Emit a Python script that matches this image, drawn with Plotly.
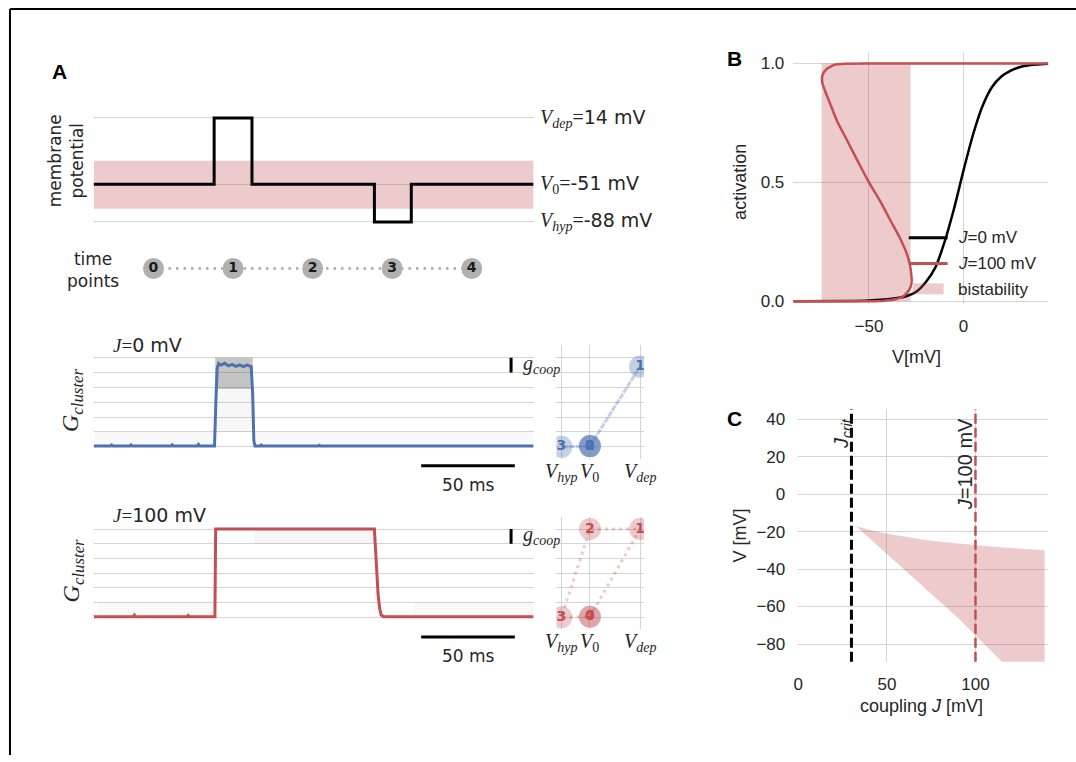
import plotly.graph_objects as go

W, H = 1076, 762

# ---------------- data ----------------
V_DEP, V_0, V_HYP = 14, -51, -88            # mV
BISTAB_V = [-75, -28]                        # bistability interval (mV)
T_END = 235                                  # ms
STIM_T = [0, 64.4, 84.6, 150.0, 169.7, 235]
STIM_V = [V_0, V_DEP, V_0, V_HYP, V_0, V_0]
TIME_POINT_T = [32, 74.5, 117, 159.5, 202]
TIME_POINT_LABELS = ["0", "1", "2", "3", "4"]
SCALE_BAR_MS = 50
G_LEVELS = [0, 1, 2, 3, 4, 5, 6]
G_MAX = 6
G_COOP = 1

J0_T = [0, 9.0, 9.6, 10.2, 19.4, 20.0, 20.6, 41.4, 42.0, 42.6, 55.4, 56.0, 56.6,
        64.6, 65.3, 66.0, 66.8, 68, 70, 72, 74, 76, 78, 80, 82, 84.2, 85.0, 85.6, 86.2,
        89.0, 89.6, 90.2, 120, 120.6, 121.2, 175, 175.6, 176.2, 195, 195.6, 196.2,
        215, 215.6, 216.2, 235]
J0_G = [0.05, 0.05, 0.12, 0.05, 0.05, 0.13, 0.05, 0.05, 0.14, 0.05, 0.05, 0.16, 0.05,
        0.05, 3.0, 5.3, 5.6, 5.5, 5.62, 5.45, 5.55, 5.42, 5.52, 5.4, 5.5, 5.4, 3.5, 0.4, 0.05,
        0.05, 0.12, 0.05, 0.05, 0.1, 0.05, 0.05, 0.1, 0.05, 0.05, 0.1, 0.05,
        0.05, 0.09, 0.05, 0.05]
J0_SPREAD = [[0, 64, 0, 1], [86, 235, 0, 1], [65, 85, 1, 3.9], [65, 85, 3.9, 6]]

J100_T = [0, 21.2, 21.8, 22.4, 50.0, 50.6, 51.2, 64.8, 65.2, 150.0, 150.6, 151.3,
          152.0, 152.8, 153.6, 155.0, 235]
J100_G = [0.03, 0.03, 0.14, 0.03, 0.03, 0.12, 0.03, 0.03, 6.0, 6.0, 4.6, 2.8,
          1.5, 0.6, 0.15, 0.03, 0.03]
J100_SPREAD = [[2, 64, 0, 1], [171, 235, 0, 1], [86, 150, 5, 6]]

STATE_LABELS = ["0", "1", "2", "3", "4"]
STATE_V = [V_0, V_DEP, V_0, V_HYP, V_0]
STATE_G_J0 = [0.05, 5.4, 0.05, 0.0, 0.05]
STATE_G_J100 = [0.03, 6.0, 6.0, 0.0, 0.03]
STATE_TICKS = [V_HYP, V_0, V_DEP]

# panel B
B_V_J0 = [-90, -60, -50, -40, -30, -25, -20, -15, -10, -5, 0, 5, 10, 15, 20, 25, 30, 38, 45]
B_A_J0 = [0, 0.001, 0.003, 0.008, 0.022, 0.04, 0.08, 0.14, 0.25, 0.39, 0.55, 0.7, 0.82,
          0.9, 0.945, 0.97, 0.985, 0.995, 0.999]
B_V_J100 = [-90, -50, -42, -36, -32, -29.5, -28, -27.4, -27.6, -28.4, -30, -33.7, -38, -44,
            -50, -56, -62, -67, -70, -73, -74.7, -74.6, -72.6, -69.5, -67.4, -62, -50, 45]
B_A_J100 = [0, 0, 0.002, 0.008, 0.02, 0.04, 0.06, 0.085, 0.11, 0.155, 0.2, 0.267, 0.33, 0.42,
            0.5, 0.59, 0.683, 0.76, 0.82, 0.88, 0.92, 0.95, 0.975, 0.99, 0.996, 0.999, 1.0, 1.0]
B_XTICKS = [-50, 0]
B_YTICKS = [0, 0.5, 1.0]

# panel C
C_J = [32.5, 40, 50, 60, 70, 80, 90, 100, 110, 120, 139]
C_V_UPPER = [-17, -19, -21.2, -22.8, -24.2, -25.4, -26.4, -27.2, -28.1, -28.8, -30]
C_V_LOWER = [-17, -23.5, -32, -40.5, -49, -57.5, -66, -75, -84.5, -94, -112]
J_CRIT = 30
J_EXAMPLE = 100
C_XTICKS = [0, 50, 100]
C_YTICKS = [-80, -60, -40, -20, 0, 20, 40]

# ---------------- style ----------------
INK = "#262626"
GRID = "#d4d4d4"
BLUE = "#4c72b0"
RED = "#c44e52"
PINK = "rgba(196,78,82,0.3)"
SANS_A = "DejaVu Sans"
SANS_B = "Liberation Sans"
SERIF = "Liberation Serif"


def fx(p):
    return p / W


def fy(p):
    return 1 - p / H


def xdom(a, b):
    return [fx(a), fx(b)]


def ydom(top, bot):
    return [fy(bot), fy(top)]


def xr(v1, p1, v2, p2, left, right):
    s = (p2 - p1) / (v2 - v1)
    return [v1 - (p1 - left) / s, v1 + (right - p1) / s]


def yr(v1, p1, v2, p2, top, bot):
    s = (p1 - p2) / (v2 - v1)
    return [v1 - (bot - p1) / s, v1 + (p1 - top) / s]


def m(s, size):
    return f"<span style='font-family:{SERIF};font-size:{size}px'>{s}</span>"


def minus(v):
    return f"{v}".replace("-", "\u2212")


def base(domain, rng, **kw):
    d = dict(domain=domain, range=rng, showgrid=False, gridcolor=GRID, gridwidth=1.3,
             zeroline=False, showline=False, ticks="", showticklabels=False,
             fixedrange=True)
    d.update(kw)
    return d


traces = []
shapes = []
anns = []


def ann(text, x, y, size, family=SANS_A, color=INK, xanchor="center", yanchor="middle",
        angle=0, xref="paper", yref="paper", bold=False):
    f = dict(family=family, size=size, color=color)
    if bold:
        f["weight"] = "bold"
    anns.append(dict(text=text, x=fx(x) if xref == "paper" else x,
                     y=fy(y) if yref == "paper" else y, xref=xref, yref=yref,
                     showarrow=False, xanchor=xanchor, yanchor=yanchor,
                     textangle=angle, font=f))


# ---------- Panel A top: stimulus ----------
traces.append(go.Scatter(x=[0, T_END, T_END, 0, 0],
                         y=[BISTAB_V[0], BISTAB_V[0], BISTAB_V[1], BISTAB_V[1], BISTAB_V[0]],
                         fill="toself", fillcolor=PINK, mode="lines", line=dict(width=0),
                         xaxis="x", yaxis="y", hoverinfo="skip"))
traces.append(go.Scatter(x=STIM_T, y=STIM_V, mode="lines", line_shape="hv",
                         line=dict(color="black", width=3), xaxis="x", yaxis="y"))

# time points
traces.append(go.Scatter(x=[TIME_POINT_T[0], TIME_POINT_T[-1]], y=[0, 0], mode="lines",
                         line=dict(color="#a8a8a8", width=2.5, dash="2.5px,5px"),
                         xaxis="x8", yaxis="y8"))
traces.append(go.Scatter(x=TIME_POINT_T, y=[0] * len(TIME_POINT_T), mode="markers+text",
                         marker=dict(size=21, color="#b0b0b0"), text=TIME_POINT_LABELS,
                         textposition="middle center",
                         textfont=dict(family=SANS_A, size=14, color="#1a1a1a", weight="bold"),
                         xaxis="x8", yaxis="y8"))


def spread_traces(regions, alphas, xa, ya):
    for (t0, t1, g0, g1), a in zip(regions, alphas):
        traces.append(go.Scatter(x=[t0, t1, t1, t0, t0], y=[g0, g0, g1, g1, g0],
                                 fill="toself", fillcolor=f"rgba(60,60,60,{a})",
                                 mode="lines", line=dict(width=0), xaxis=xa, yaxis=ya,
                                 hoverinfo="skip"))


# ---------- Panel A middle: J=0 ----------
spread_traces(J0_SPREAD, [0.03, 0.03, 0.04, 0.3], "x2", "y2")
traces.append(go.Scatter(x=J0_T, y=J0_G, mode="lines", line=dict(color=BLUE, width=3),
                         xaxis="x2", yaxis="y2"))
G_COOP_T = 223
traces.append(go.Scatter(x=[G_COOP_T, G_COOP_T], y=[G_MAX - G_COOP, G_MAX], mode="lines",
                         line=dict(color="black", width=3), xaxis="x2", yaxis="y2"))

# ---------- Panel A bottom: J=100 ----------
spread_traces(J100_SPREAD, [0.03, 0.03, 0.05], "x4", "y4")
traces.append(go.Scatter(x=J100_T, y=J100_G, mode="lines", line=dict(color=RED, width=3),
                         xaxis="x4", yaxis="y4"))
traces.append(go.Scatter(x=[G_COOP_T, G_COOP_T], y=[G_MAX - G_COOP, G_MAX], mode="lines",
                         line=dict(color="black", width=3), xaxis="x4", yaxis="y4"))

# mini state panels
for gs, col, rgba, xa, ya in [(STATE_G_J0, BLUE, "rgba(76,114,176,0.33)", "x3", "y3"),
                              (STATE_G_J100, RED, "rgba(196,78,82,0.3)", "x5", "y5")]:
    traces.append(go.Scatter(x=STATE_V, y=gs, mode="lines",
                             line=dict(color=rgba, width=3, dash="3px,4px"),
                             xaxis=xa, yaxis=ya))
    traces.append(go.Scatter(x=STATE_V, y=gs, mode="markers+text",
                             marker=dict(size=22, color=rgba), text=STATE_LABELS,
                             textposition="middle center",
                             textfont=dict(family=SANS_A, size=14, color=col, weight="bold"),
                             xaxis=xa, yaxis=ya))

# ---------- Panel B ----------
traces.append(go.Scatter(x=[BISTAB_V[0], BISTAB_V[1], BISTAB_V[1], BISTAB_V[0], BISTAB_V[0]],
                         y=[0, 0, 1, 1, 0], fill="toself", fillcolor=PINK, mode="lines",
                         line=dict(width=0), xaxis="x6", yaxis="y6", hoverinfo="skip"))
traces.append(go.Scatter(x=B_V_J0, y=B_A_J0, mode="lines", line_shape="spline",
                         line=dict(color="black", width=2.5, smoothing=0.8),
                         xaxis="x6", yaxis="y6"))
traces.append(go.Scatter(x=B_V_J100, y=B_A_J100, mode="lines", line_shape="spline",
                         line=dict(color=RED, width=2.5, smoothing=0.8),
                         xaxis="x6", yaxis="y6"))

# ---------- Panel C ----------
traces.append(go.Scatter(x=C_J + C_J[::-1], y=C_V_UPPER + C_V_LOWER[::-1], fill="toself",
                         fillcolor=PINK, mode="lines", line=dict(width=0),
                         xaxis="x7", yaxis="y7", hoverinfo="skip"))
shapes.append(dict(type="line", xref="x7", yref="y7 domain", x0=J_CRIT, x1=J_CRIT, y0=0, y1=1,
                   line=dict(color="black", width=3, dash="10px,4px")))
shapes.append(dict(type="line", xref="x7", yref="y7 domain", x0=J_EXAMPLE, x1=J_EXAMPLE,
                   y0=0, y1=1, line=dict(color=RED, width=2.5, dash="10px,4px")))

# ---------- scale bars ----------
SB_T0 = 175
for xa, ypx, ytxt in [("x2", 470, 490), ("x4", 643, 662)]:
    shapes.append(dict(type="line", xref=xa, yref="paper", x0=SB_T0, x1=SB_T0 + SCALE_BAR_MS,
                       y0=fy(ypx), y1=fy(ypx), line=dict(color="black", width=3)))
    ann(f"{SCALE_BAR_MS} ms", SB_T0 + SCALE_BAR_MS / 2, ytxt, 17, xref=xa)

# ---------- figure frame ----------
shapes.append(dict(type="line", xref="paper", yref="paper", x0=fx(5), x1=1, y0=fy(9), y1=fy(9),
                   line=dict(color="black", width=2)))
shapes.append(dict(type="line", xref="paper", yref="paper", x0=fx(5), x1=fx(5), y0=0, y1=fy(9),
                   line=dict(color="black", width=2)))

# ---------- legend B (manual) ----------
shapes.append(dict(type="line", xref="paper", yref="paper", x0=fx(908), x1=fx(947),
                   y0=fy(240), y1=fy(240), line=dict(color="black", width=3)))
shapes.append(dict(type="line", xref="paper", yref="paper", x0=fx(908), x1=fx(947),
                   y0=fy(266), y1=fy(266), line=dict(color=RED, width=3)))
shapes.append(dict(type="rect", xref="paper", yref="paper", x0=fx(912), x1=fx(943),
                   y0=fy(297), y1=fy(286), fillcolor=PINK, line=dict(width=0)))
ann("<i>J</i>=0 mV", 955, 240, 17, family=SANS_B, xanchor="left")
ann("<i>J</i>=100 mV", 955, 266, 17, family=SANS_B, xanchor="left")
ann("bistability", 955, 292, 17, family=SANS_B, xanchor="left")

# ---------- annotations ----------
ann("A", 55, 72, 21, family=SANS_B, color="black", bold=True)
ann("B", 733, 59, 21, family=SANS_B, color="black", bold=True)
ann("C", 733, 422, 21, family=SANS_B, color="black", bold=True)

ann("membrane<br>potential", 61, 162, 17, angle=-90)
ann("time<br>points", 88, 272, 17)
ann(m("<i>V</i><sub><i>dep</i></sub>=", 20) + f"{V_DEP} mV", 535, 120, 19, xanchor="left")
ann(m("<i>V</i><sub>0</sub>=", 20) + f"{V_0} mV", 535, 186, 19, xanchor="left")
ann(m("<i>V</i><sub><i>hyp</i></sub>=", 20) + f"{V_HYP} mV", 535, 224, 19, xanchor="left")

ann(m("<i>J</i>=", 19) + "0 mV", 106, 348, 19, xanchor="left")
ann(m("<i>J</i>=", 19) + "100 mV", 106, 520, 19, xanchor="left")
ann(m("<i>G</i><sub><i>cluster</i></sub>", 24), 68, 404, 24, angle=-90)
ann(m("<i>G</i><sub><i>cluster</i></sub>", 24), 68, 576, 24, angle=-90)
ann(m("<i>g</i><sub><i>coop</i></sub>", 20), 518, 368, 20, xanchor="left")
ann(m("<i>g</i><sub><i>coop</i></sub>", 20), 518, 540, 20, xanchor="left")

state_tick_text = [m("<i>V</i><sub><i>hyp</i></sub>", 20), m("<i>V</i><sub>0</sub>", 20),
                   m("<i>V</i><sub><i>dep</i></sub>", 20)]
for xa, ypx in [("x3", 477), ("x5", 648)]:
    for v, t in zip(STATE_TICKS, state_tick_text):
        ann(t, v, ypx, 20, xref=xa)

ann("activation", 739, 184, 18, family=SANS_B, angle=-90)
ann("V[mV]", 916, 360, 18, family=SANS_B)
ann("V [mV]", 738, 541, 18, family=SANS_B, angle=-90)
ann("coupling <i>J</i> [mV]", 921, 713, 18, family=SANS_B)
ann("<i>J</i><sub><i>crit</i></sub>", 842, 438, 20, family=SANS_B, angle=-90)
ann("<i>J</i>=100 mV", 964, 469, 20, family=SANS_B, angle=-90)

# ---------- axes ----------
tickfont = dict(family=SANS_B, size=17, color=INK)
layout = dict(
    width=W, height=H, margin=dict(l=0, r=0, t=0, b=0), showlegend=False,
    paper_bgcolor="white", plot_bgcolor="rgba(0,0,0,0)",
    shapes=shapes, annotations=anns,
    xaxis=base(xdom(89, 531), [0, T_END], anchor="y"),
    yaxis=base(ydom(95, 245), yr(V_HYP, 224, V_DEP, 119, 95, 245), anchor="x",
               showgrid=True, tickvals=[V_HYP, V_0, V_DEP]),
    xaxis8=base(xdom(89, 531), [0, T_END], anchor="y8"),
    yaxis8=base(ydom(255, 287), [-1, 1], anchor="x8"),
    xaxis2=base(xdom(89, 531), [0, T_END], anchor="y2"),
    yaxis2=base(ydom(348, 463), yr(0, 451, 6, 361, 348, 463), anchor="x2",
                showgrid=True, tickvals=G_LEVELS),
    xaxis3=base(xdom(554, 642), xr(V_HYP, 559, V_DEP, 638, 554, 642), anchor="y3",
                showgrid=True, tickvals=STATE_TICKS),
    yaxis3=base(ydom(348, 463), yr(0, 451, 6, 361, 348, 463), anchor="x3",
                showgrid=True, tickvals=G_LEVELS),
    xaxis4=base(xdom(89, 531), [0, T_END], anchor="y4"),
    yaxis4=base(ydom(522, 635), yr(0, 623, 6, 534, 522, 635), anchor="x4",
                showgrid=True, tickvals=G_LEVELS),
    xaxis5=base(xdom(554, 642), xr(V_HYP, 559, V_DEP, 638, 554, 642), anchor="y5",
                showgrid=True, tickvals=STATE_TICKS),
    yaxis5=base(ydom(522, 635), yr(0, 623, 6, 534, 522, 635), anchor="x5",
                showgrid=True, tickvals=G_LEVELS),
    xaxis6=base(xdom(792, 1048), xr(-50, 868, 0, 963, 792, 1048), anchor="y6",
                showgrid=True, tickvals=B_XTICKS, ticktext=[minus(v) for v in B_XTICKS],
                showticklabels=True, tickfont=tickfont, ticklabelstandoff=10),
    yaxis6=base(ydom(52, 307), yr(0, 304, 1, 64, 52, 307), anchor="x6",
                showgrid=True, tickvals=B_YTICKS, ticktext=[f"{v:.1f}" for v in B_YTICKS],
                showticklabels=True, tickfont=tickfont, ticklabelstandoff=8),
    xaxis7=base(xdom(797, 1048), xr(0, 797, 100, 975, 797, 1048), anchor="y7",
                showgrid=True, tickvals=C_XTICKS, ticktext=[minus(v) for v in C_XTICKS],
                showticklabels=True, tickfont=tickfont, ticklabelstandoff=10),
    yaxis7=base(ydom(413, 668), yr(-80, 650, 40, 423, 413, 668), anchor="x7",
                showgrid=True, tickvals=C_YTICKS, ticktext=[minus(v) for v in C_YTICKS],
                showticklabels=True, tickfont=tickfont, ticklabelstandoff=12),
)

fig = go.Figure(data=traces, layout=layout)
fig.write_html("out.html", config={"displayModeBar": False},
               post_script="document.body.style.margin='0px';")
